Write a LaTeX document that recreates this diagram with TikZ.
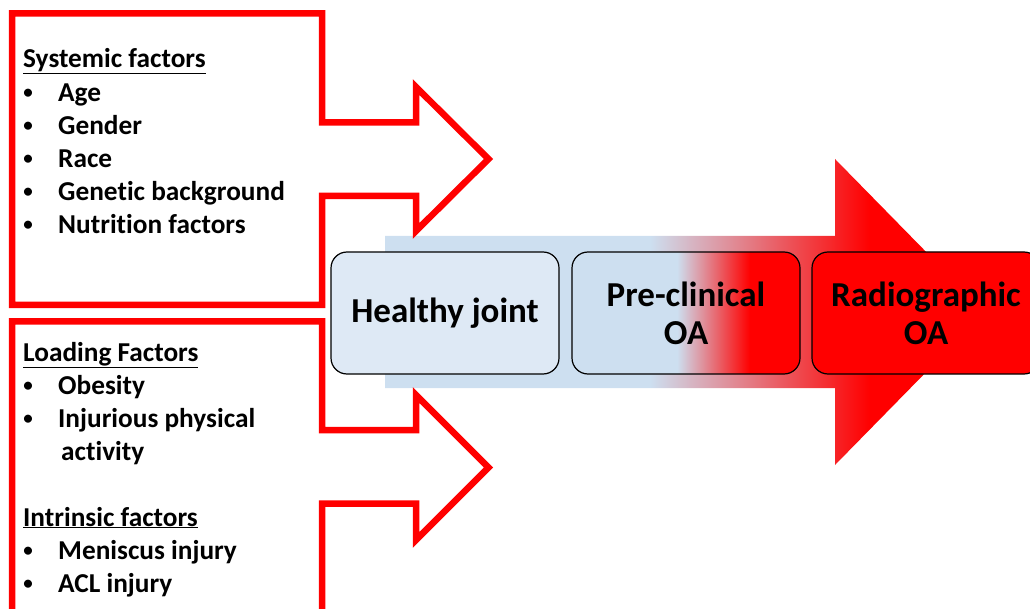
\documentclass[tikz,border=0pt]{standalone}
\usepackage{fontspec}
\setmainfont{Carlito}[Ligatures=NoCommon]
\usepackage{tikz}

\definecolor{shaftblue}{RGB}{205,223,240}
\definecolor{jointblue}{RGB}{222,233,245}

\begin{document}
\begin{tikzpicture}[x=1pt, y=-1pt,
    stage/.style={draw=black, line width=1.2pt, rounded corners=16pt, minimum width=228pt, minimum height=122pt, align=center, inner sep=0pt, font=\fontsize{35}{38}\selectfont\bfseries},
    factor/.style={anchor=base west, inner sep=0pt, font=\fontsize{27.3}{33}\selectfont\bfseries},
    dot/.style={anchor=base, inner sep=0pt, font=\fontsize{19}{33}\selectfont\bfseries},
    inarrow/.style={draw=red, line width=6.5pt, miter limit=10}]
    \useasboundingbox (0,0) rectangle (1030,609);
    \clip (0,0) rectangle (1030,609);

    \begin{scope}
        \clip (385,236) -- (835,236) -- (835,159) -- (985,312) -- (835,465) -- (835,388) -- (385,388) -- cycle;
        \fill[shaftblue] (380,150) rectangle (650,470);
        \shade[left color=shaftblue, right color=red] (650,150) rectangle (870,470);
        \fill[red] (870,150) rectangle (1000,470);
    \end{scope}

    \draw[inarrow] (12,13.5) -- (322,13.5) -- (322,122.5) -- (416,122.5) -- (416,87) -- (488.5,159) -- (416,231) -- (416,196) -- (322,196) -- (322,305) -- (12,305) -- cycle;
    \draw[inarrow] (12,700) -- (12,321.5) -- (322,321.5) -- (322,430) -- (416,430) -- (416,395) -- (488.5,467.5) -- (416,540) -- (416,503.5) -- (322,503.5) -- (322,700);

    \begin{scope}
        \clip[rounded corners=16pt] (572,252) rectangle (800,374);
        \fill[shaftblue] (570,250) rectangle (677,376);
        \shade[left color=shaftblue, right color=red] (677,250) rectangle (750,376);
        \fill[red] (750,250) rectangle (802,376);
    \end{scope}

    \node[stage, fill=jointblue] (healthy) at (445,313) {Healthy joint};
    \node[stage] (preclin) at (686,313) {Pre-clinical\\OA};
    \node[stage, fill=red] (radio) at (926,313) {Radiographic\\OA};

    \node[factor] (systemic) at (23,68) {\underline{Systemic factors}};
    \node[dot] (d1) at (28,99) {\textbullet};
    \node[factor] (age) at (58,101.5) {Age};
    \node[dot] (d2) at (28,132) {\textbullet};
    \node[factor] (gender) at (58,134.5) {Gender};
    \node[dot] (d3) at (28,165) {\textbullet};
    \node[factor] (race) at (58,167.5) {Race};
    \node[dot] (d4) at (28,198) {\textbullet};
    \node[factor] (genetic) at (58,200.5) {Genetic background};
    \node[dot] (d5) at (28,231) {\textbullet};
    \node[factor] (nutrition) at (58,233.5) {Nutrition factors};

    \node[factor] (loading) at (23,361) {\underline{Loading Factors}};
    \node[dot] (d6) at (28,391.5) {\textbullet};
    \node[factor] (obesity) at (58,394) {Obesity};
    \node[dot] (d7) at (28,424.5) {\textbullet};
    \node[factor] (injurious) at (58,427) {Injurious physical};
    \node[factor] (activity) at (61,460) {activity};

    \node[factor] (intrinsic) at (23,526) {\underline{Intrinsic factors}};
    \node[dot] (d8) at (28,556.5) {\textbullet};
    \node[factor] (meniscus) at (58,559) {Meniscus injury};
    \node[dot] (d9) at (28,589.5) {\textbullet};
    \node[factor] (acl) at (58,592) {ACL injury};
\end{tikzpicture}
\end{document}
